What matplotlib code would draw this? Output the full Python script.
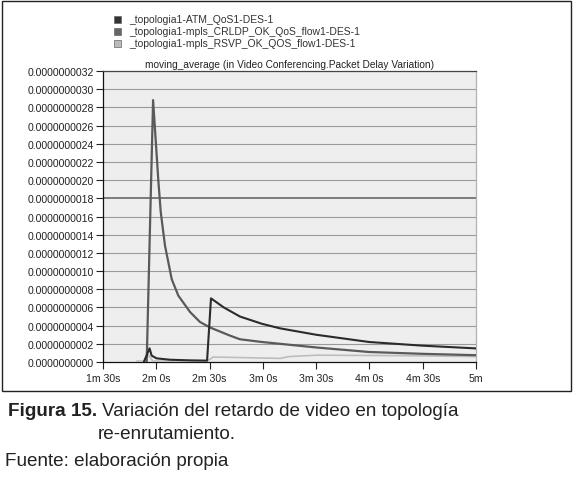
import matplotlib
matplotlib.use("Agg")
import matplotlib.pyplot as plt
from matplotlib.patches import Rectangle
from matplotlib.ticker import FixedLocator, FuncFormatter

plt.rcParams['font.family'] = ['Liberation Sans', 'DejaVu Sans']

# ---- data (time in seconds, value in seconds) ----
atm_t = [113, 116.2, 117.4, 120.2, 127.7, 139, 148.6, 150.8, 158, 167.1, 179.5, 189.7, 209.9, 239.8, 269.6, 299.5]
atm_v = [0.0, 0.15e-9, 0.07e-9, 0.04e-9, 0.025e-9, 0.018e-9, 0.015e-9, 0.70e-9, 0.60e-9, 0.50e-9, 0.42e-9,
         0.37e-9, 0.30e-9, 0.22e-9, 0.18e-9, 0.15e-9]

crldp_t = [114.6, 118.2, 121.1, 122.5, 124.9, 128.7, 132.4, 139, 144.6, 150.2, 161.5, 167.1, 179.5, 189.7,
           209.9, 239.8, 269.6, 299.5]
crldp_v = [0.0, 2.88e-9, 2.01e-9, 1.65e-9, 1.28e-9, 0.91e-9, 0.73e-9, 0.55e-9, 0.44e-9, 0.38e-9, 0.29e-9,
           0.25e-9, 0.22e-9, 0.20e-9, 0.16e-9, 0.11e-9, 0.09e-9, 0.075e-9]

rsvp_t = [109, 114.2, 115.5, 118, 148.6, 152, 189.7, 195, 210.5, 257, 299.5]
rsvp_v = [0.01e-9, 0.01e-9, 0.08e-9, 0.01e-9, 0.01e-9, 0.055e-9, 0.04e-9, 0.06e-9, 0.075e-9, 0.07e-9, 0.06e-9]

series_names = ["_topologia1-ATM_QoS1-DES-1",
                "_topologia1-mpls_CRLDP_OK_QoS_flow1-DES-1",
                "_topologia1-mpls_RSVP_OK_QOS_flow1-DES-1"]
x_ticks = [90, 120, 150, 180, 210, 240, 270, 300]
x_tick_labels = ["1m 30s", "2m 0s", "2m 30s", "3m 0s", "3m 30s", "4m 0s", "4m 30s", "5m"]
y_ticks = [i * 0.2e-9 for i in range(17)]

colors = ["#2b2b2b", "#5a5a5a", "#bdbdbd"]

W, H = 573, 481
fig = plt.figure(figsize=(W / 100, H / 100), dpi=100)
fig.patch.set_facecolor("white")

# outer frame
fig.patches.append(Rectangle((1.5 / W, 1 - 392 / H), 569 / W, 390 / H, transform=fig.transFigure,
                             fill=False, edgecolor="#222222", linewidth=1.0))

ax = fig.add_axes([103 / W, 1 - 363 / H, 373 / W, 291 / H])
ax.set_facecolor("#eeeeee")
ax.set_xlim(90, 300)
ax.set_ylim(0, 3.2e-9)

for y in y_ticks[1:]:
    if abs(y - 1.8e-9) < 1e-12:
        ax.axhline(y, color="#7a7a7a", lw=1.4, zorder=1)
    else:
        ax.axhline(y, color="#9a9a9a", lw=0.8, zorder=1)

ax.plot(rsvp_t, rsvp_v, color=colors[2], lw=1.2, zorder=3)
ax.plot(crldp_t, crldp_v, color=colors[1], lw=1.6, zorder=4)
ax.plot(atm_t, atm_v, color=colors[0], lw=1.5, zorder=5)

ax.xaxis.set_major_locator(FixedLocator(x_ticks))
ax.set_xticklabels(x_tick_labels)
ax.yaxis.set_major_locator(FixedLocator(y_ticks))
ax.yaxis.set_major_formatter(FuncFormatter(lambda v, p: "%.10f" % v))
ax.tick_params(axis="both", labelsize=7.6, colors="#222222", length=5, width=0.8, pad=1.5)
ax.tick_params(axis="x", pad=3)

ax.spines["left"].set_color("#111111")
ax.spines["bottom"].set_color("#111111")
ax.spines["top"].set_color("#444444")
ax.spines["right"].set_color("#b0b0b0")
for s in ax.spines.values():
    s.set_linewidth(0.9)

ax.set_title("moving_average (in Video Conferencing.Packet Delay Variation)", fontsize=7.3,
             color="#222222", pad=3)

# legend
leg_colors = ["#333333", "#666666", "#bbbbbb"]
for i, (name, c) in enumerate(zip(series_names, leg_colors)):
    yc = 20 + i * 12.2
    fig.patches.append(Rectangle((114 / W, 1 - (yc + 3.5) / H), 7 / W, 7 / H, transform=fig.transFigure,
                                 facecolor=c, edgecolor="#666666", linewidth=0.5))
    fig.text(129 / W, 1 - yc / H, name, fontsize=7.5, color="#333333", va="center", ha="left")

# caption
cap_fs = 13.6
t1 = fig.text(8 / W, 1 - 412 / H, "Figura 15.", fontsize=cap_fs, fontweight="bold", va="center", ha="left",
              color="#222222")
fig.canvas.draw()
bb = t1.get_window_extent(renderer=fig.canvas.get_renderer())
x_after = (bb.x1 + 5) / W
fig.text(x_after, 1 - 412 / H, "Variación del retardo de video en topología", fontsize=cap_fs, va="center",
         ha="left", color="#222222")
fig.text(98 / W, 1 - 435 / H, "re-enrutamiento.", fontsize=cap_fs, va="center", ha="left", color="#222222")
fig.text(5 / W, 1 - 462 / H, "Fuente: elaboración propia", fontsize=cap_fs, va="center", ha="left",
         color="#222222")

fig.savefig("out.png", dpi=100, facecolor="white")
